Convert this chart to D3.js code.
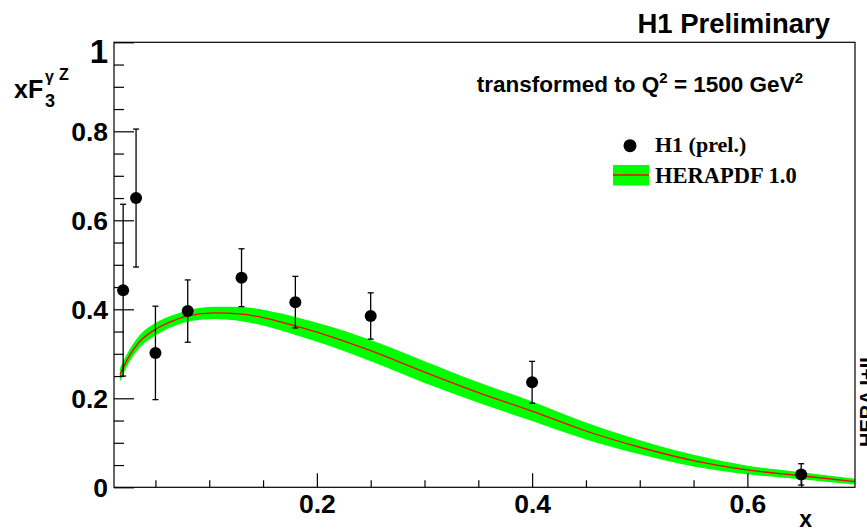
<!DOCTYPE html>
<html>
<head>
<meta charset="utf-8">
<script src="https://cdn.jsdelivr.net/npm/d3@7"></script>
<style>
  html, body { margin: 0; padding: 0; background: #fff; }
  svg { display: block; }
  text { font-family: "Liberation Sans", Arial, sans-serif; font-weight: bold; fill: #000; }
  .serif { font-family: "Liberation Serif", "Times New Roman", serif; }
</style>
</head>
<body>
<svg id="chart" width="867" height="531"></svg>
<script>
// ---- data ----
const dataX    = [0.02, 0.032, 0.05, 0.08, 0.13, 0.18, 0.25, 0.40, 0.65];
const dataY    = [0.443, 0.650, 0.302, 0.396, 0.471, 0.416, 0.385, 0.236, 0.029];
const dataErr  = [0.193, 0.155, 0.105, 0.070, 0.065, 0.058, 0.052, 0.047, 0.024];

const curveX   = [0.017, 0.025, 0.034, 0.05, 0.065, 0.08, 0.105, 0.13, 0.166, 0.18, 0.21, 0.25, 0.30, 0.35, 0.40, 0.45, 0.50, 0.55, 0.60, 0.65, 0.70];
const curveY   = [0.253, 0.292, 0.324, 0.355, 0.373, 0.385, 0.392, 0.389, 0.372, 0.3625, 0.341, 0.307, 0.259, 0.213, 0.171, 0.1265, 0.090, 0.060, 0.039, 0.026, 0.0126];
const curveErr = [0.015, 0.014, 0.014, 0.014, 0.013, 0.013, 0.014, 0.016, 0.019, 0.020, 0.022, 0.024, 0.0245, 0.023, 0.022, 0.019, 0.016, 0.013, 0.0095, 0.008, 0.0065];

const xMajorTicks = [0.2, 0.4, 0.6];
const xMajorLabels = ["0.2", "0.4", "0.6"];
const xMinorTicks = [0.05, 0.1, 0.15, 0.25, 0.3, 0.35, 0.45, 0.5, 0.55, 0.65];
const yMajorTicks = [0, 0.2, 0.4, 0.6, 0.8, 1];
const yMajorLabels = ["0", "0.2", "0.4", "0.6", "0.8", "1"];
const yMinorTicks = [0.05, 0.1, 0.15, 0.25, 0.3, 0.35, 0.45, 0.5, 0.55, 0.65, 0.7, 0.75, 0.85, 0.9, 0.95];

const legendLabels = ["H1 (prel.)", "HERAPDF 1.0"];

// ---- layout ----
const L = 114, R = 855, T = 42.3, B = 487.3;
const svg = d3.select("#chart");
const x = d3.scaleLinear().domain([0.0115, 0.7]).range([L, R]);
const y = d3.scaleLinear().domain([0, 1]).range([B, T]);

const curve = curveX.map((v, i) => ({x: v, y: curveY[i], e: curveErr[i]}));
const pts = dataX.map((v, i) => ({x: v, y: dataY[i], e: dataErr[i]}));

// band
svg.append("path")
  .datum(curve)
  .attr("fill", "#00ff00")
  .attr("d", d3.area().curve(d3.curveMonotoneX)
    .x(d => x(d.x)).y0(d => y(d.y - d.e)).y1(d => y(d.y + d.e)));
// central line
svg.append("path")
  .datum(curve)
  .attr("fill", "none").attr("stroke", "#ff0000").attr("stroke-width", 1.3)
  .attr("d", d3.line().curve(d3.curveMonotoneX).x(d => x(d.x)).y(d => y(d.y)));

// frame
svg.append("rect").attr("x", L).attr("y", T).attr("width", R - L).attr("height", B - T)
  .attr("fill", "none").attr("stroke", "#000").attr("stroke-width", 1.2);

// x axis
const gx = svg.append("g").attr("transform", `translate(0,${B})`);
gx.call(d3.axisBottom(x).tickValues(xMajorTicks).tickSizeInner(-14).tickSizeOuter(0)
  .tickPadding(4).tickFormat((d, i) => xMajorLabels[i]));
gx.append("g").call(d3.axisBottom(x).tickValues(xMinorTicks).tickSizeInner(-7).tickSizeOuter(0).tickFormat(""));
gx.selectAll(".domain").remove();
gx.selectAll("line").attr("stroke", "#000").attr("stroke-width", 1.2);
gx.selectAll("text").attr("font-size", 26.5).attr("font-family", "Liberation Sans, Arial, sans-serif")
  .attr("font-weight", "bold").attr("y", 26).attr("dy", 0);

// y axis
const gy = svg.append("g").attr("transform", `translate(${L},0)`);
gy.call(d3.axisLeft(y).tickValues(yMajorTicks).tickSizeInner(-20).tickSizeOuter(0)
  .tickPadding(6).tickFormat((d, i) => yMajorLabels[i]));
gy.append("g").call(d3.axisLeft(y).tickValues(yMinorTicks).tickSizeInner(-10).tickSizeOuter(0).tickFormat(""));
gy.selectAll(".domain").remove();
gy.selectAll("line").attr("stroke", "#000").attr("stroke-width", 1.2);
gy.selectAll("text").attr("font-size", 26.5).attr("font-family", "Liberation Sans, Arial, sans-serif")
  .attr("font-weight", "bold").attr("dy", "0.36em");
gy.selectAll(".tick").filter(d => d === 1).select("text").attr("font-size", 33).attr("dy", "0.6em");

// data points with error bars
const gp = svg.append("g");
const pg = gp.selectAll("g").data(pts).join("g");
pg.append("line").attr("x1", d => x(d.x)).attr("x2", d => x(d.x))
  .attr("y1", d => y(d.y - d.e)).attr("y2", d => y(d.y + d.e))
  .attr("stroke", "#000").attr("stroke-width", 1.3);
pg.append("line").attr("x1", d => x(d.x) - 3).attr("x2", d => x(d.x) + 3)
  .attr("y1", d => y(d.y + d.e)).attr("y2", d => y(d.y + d.e))
  .attr("stroke", "#000").attr("stroke-width", 1.3);
pg.append("line").attr("x1", d => x(d.x) - 3).attr("x2", d => x(d.x) + 3)
  .attr("y1", d => y(d.y - d.e)).attr("y2", d => y(d.y - d.e))
  .attr("stroke", "#000").attr("stroke-width", 1.3);
pg.append("circle").attr("cx", d => x(d.x)).attr("cy", d => y(d.y)).attr("r", 6).attr("fill", "#000");

// titles
svg.append("text").attr("x", 830).attr("y", 33).attr("text-anchor", "end")
  .attr("font-size", 27.5).text("H1 Preliminary");

const tq = svg.append("text").attr("x", 803).attr("y", 92).attr("text-anchor", "end").attr("font-size", 22.5);
tq.append("tspan").text("transformed to Q");
tq.append("tspan").attr("dy", -9).attr("font-size", 15).text("2");
tq.append("tspan").attr("dy", 9).text(" = 1500 GeV");
tq.append("tspan").attr("dy", -9).attr("font-size", 15).text("2");

// y-axis title
svg.append("text").attr("x", 14).attr("y", 98).attr("font-size", 25).text("xF");
svg.append("text").attr("x", 45).attr("y", 107).attr("font-size", 18).text("3");
svg.append("text").attr("x", 45).attr("y", 82).attr("font-size", 16).attr("font-weight", "normal")
  .attr("font-family", "DejaVu Sans, sans-serif").text("γ");
svg.append("text").attr("x", 59).attr("y", 80).attr("font-size", 16).text("Z");

// x-axis title
svg.append("text").attr("x", 812).attr("y", 527).attr("text-anchor", "end").attr("font-size", 23).text("x");

// legend
const lg = svg.append("g");
lg.append("circle").attr("cx", 630).attr("cy", 145.7).attr("r", 6.5).attr("fill", "#000");
lg.append("text").attr("class", "serif").attr("x", 655).attr("y", 152).attr("font-size", 22).text(legendLabels[0]);
lg.append("rect").attr("x", 613).attr("y", 165).attr("width", 36).attr("height", 20.5).attr("fill", "#00ff00");
lg.append("line").attr("x1", 613).attr("x2", 649).attr("y1", 175).attr("y2", 175).attr("stroke", "#ff0000").attr("stroke-width", 1.3);
lg.append("text").attr("class", "serif").attr("x", 655).attr("y", 183).attr("font-size", 22.5).text(legendLabels[1]);

// clipped vertical side label (cut by the page edge, as in the reference)
svg.append("text").attr("transform", "translate(874,447) rotate(-90)")
  .attr("font-size", 20).text("HERA I+II");
</script>
</body>
</html>
